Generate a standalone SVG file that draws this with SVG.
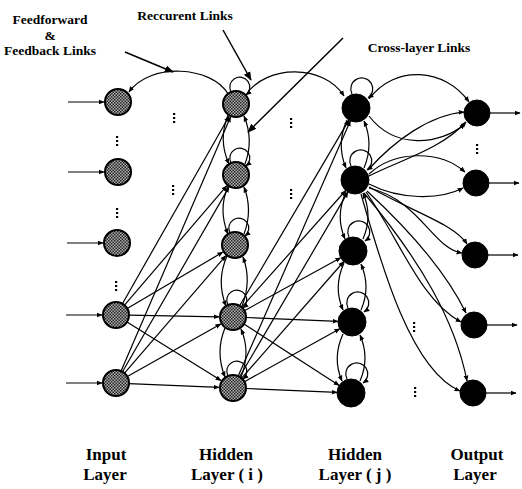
<svg xmlns="http://www.w3.org/2000/svg" width="522" height="489" viewBox="0 0 522 489">
<style>
.lbl{font-family:"Liberation Serif","DejaVu Serif",serif;font-size:13.5px;font-weight:bold;fill:#000;text-anchor:middle}
.blbl{font-family:"Liberation Serif","DejaVu Serif",serif;font-size:17px;font-weight:bold;fill:#000;text-anchor:middle}
.c{fill:none;stroke:#000;stroke-width:1.2;marker-end:url(#ah)}
.p{fill:none;stroke:#000;stroke-width:1.5;marker-end:url(#ahb)}
.g{fill:url(#st);stroke:#000;stroke-width:2}
.b{fill:#000;stroke:#000;stroke-width:1}
</style>
<defs>
<pattern id="st" width="3" height="3" patternUnits="userSpaceOnUse"><rect width="3" height="3" fill="#b0b0b0"/><rect width="1.5" height="1.5" fill="#222"/><rect x="1.5" y="1.5" width="1.5" height="1.5" fill="#222"/></pattern>
<marker id="ah" viewBox="0 0 10 10" refX="9" refY="5" markerWidth="6" markerHeight="6" orient="auto" markerUnits="userSpaceOnUse"><path d="M0,1 L10,5 L0,9 z" fill="#000"/></marker>
<marker id="ahb" viewBox="0 0 10 10" refX="9" refY="5" markerWidth="9" markerHeight="9" orient="auto" markerUnits="userSpaceOnUse"><path d="M0,1 L10,5 L0,9 z" fill="#000"/></marker>
<g id="vd"><rect x="-1" y="-5" width="2.2" height="2" fill="#000"/><rect x="-1" y="-1" width="2.2" height="2" fill="#000"/><rect x="-1" y="3" width="2.2" height="2" fill="#000"/></g>
</defs>

<g id="labels">
<text class="lbl" x="50" y="24">Feedforward</text>
<text class="lbl" x="50" y="40">&amp;</text>
<text class="lbl" x="50" y="55">Feedback Links</text>
<text class="lbl" x="185" y="20">Reccurent Links</text>
<text class="lbl" x="419" y="52">Cross-layer Links</text>
<text class="blbl" x="106" y="460">Input</text>
<text class="blbl" x="105" y="480">Layer</text>
<text class="blbl" x="226" y="460">Hidden</text>
<text class="blbl" x="227" y="480">Layer ( i )</text>
<text class="blbl" x="355" y="460">Hidden</text>
<text class="blbl" x="355" y="480">Layer ( j )</text>
<text class="blbl" x="477" y="460">Output</text>
<text class="blbl" x="475" y="480">Layer</text>
</g>

<g id="dots">
<use href="#vd" x="117" y="141"/>
<use href="#vd" x="117" y="213"/>
<use href="#vd" x="116" y="286"/>
<use href="#vd" x="174" y="118"/>
<use href="#vd" x="173" y="190"/>
<use href="#vd" x="291" y="123"/>
<use href="#vd" x="291" y="194"/>
<use href="#vd" x="477" y="149"/>
<use href="#vd" x="414" y="327"/>
<use href="#vd" x="415" y="392"/>
</g>

<g id="connectors">
<line class="c" x1="68" y1="102" x2="104" y2="102"/>
<line class="c" x1="68" y1="172" x2="104" y2="172"/>
<line class="c" x1="67" y1="243" x2="103" y2="243"/>
<line class="c" x1="66" y1="315" x2="102" y2="315"/>
<line class="c" x1="66" y1="383" x2="102" y2="383"/>
<line class="c" x1="490" y1="113" x2="520" y2="113"/>
<line class="c" x1="489" y1="183" x2="519" y2="183"/>
<line class="c" x1="488" y1="255" x2="518" y2="255"/>
<line class="c" x1="487" y1="325" x2="517" y2="325"/>
<line class="c" x1="486" y1="393" x2="516" y2="393"/>
<line class="c" x1="122.4" y1="303.7" x2="229.1" y2="116.2"/>
<line class="c" x1="124.5" y1="305.1" x2="226.9" y2="185.6"/>
<line class="c" x1="127.2" y1="308.4" x2="222.9" y2="252.1"/>
<line class="c" x1="129" y1="315.2" x2="219" y2="316.8"/>
<line class="c" x1="127" y1="321.9" x2="221.1" y2="380.6"/>
<line class="c" x1="121.1" y1="371.1" x2="230.5" y2="116.9"/>
<line class="c" x1="122.5" y1="371.7" x2="229" y2="187.1"/>
<line class="c" x1="124.5" y1="373.2" x2="225.9" y2="255.6"/>
<line class="c" x1="127.3" y1="376.6" x2="220.8" y2="323.9"/>
<line class="c" x1="129" y1="383.6" x2="219" y2="387.4"/>
<line class="c" x1="239.6" y1="305.8" x2="348.9" y2="120.1"/>
<line class="c" x1="241.6" y1="307.3" x2="345.7" y2="190.5"/>
<line class="c" x1="244.4" y1="310.7" x2="340.7" y2="257.7"/>
<line class="c" x1="246" y1="317.5" x2="338" y2="321.4"/>
<line class="c" x1="243.9" y1="324" x2="339.2" y2="385.4"/>
<line class="c" x1="238.2" y1="376.1" x2="350.4" y2="120.8"/>
<line class="c" x1="239.6" y1="376.8" x2="347.9" y2="192.1"/>
<line class="c" x1="241.6" y1="378.2" x2="343.8" y2="261.5"/>
<line class="c" x1="244.4" y1="381.7" x2="339.8" y2="328.8"/>
<line class="c" x1="246" y1="388.5" x2="337" y2="392.4"/>
<path class="c" d="M228,94 C212,66 150,62 129,92"/>
<path class="c" d="M246,95 C266,64 324,64 344,96"/>
<path class="c" d="M231,92 A10,10 0 1 1 246,95"/>
<path class="c" d="M231,163 A10,10 0 1 1 246,166"/>
<path class="c" d="M230,233 A10,10 0 1 1 245,236"/>
<path class="c" d="M228,305 A10,10 0 1 1 243,308"/>
<path class="c" d="M228,376 A10,10 0 1 1 243,379"/>
<path class="c" d="M352,94 A11,11 0 1 1 368,98"/>
<path class="c" d="M351,166 A11,11 0 1 1 367,170"/>
<path class="c" d="M349,237 A11,11 0 1 1 365,241"/>
<path class="c" d="M348,308 A11,11 0 1 1 364,312"/>
<path class="c" d="M347,379 A11,11 0 1 1 363,383"/>
<path class="c" d="M228,115 Q218,140 229,164"/>
<path class="c" d="M245,164 Q254,140 244,116"/>
<path class="c" d="M228,186 Q218,210 228,234"/>
<path class="c" d="M244,234 Q253,210 244,187"/>
<path class="c" d="M227,256 Q216,281 226,306"/>
<path class="c" d="M242,306 Q252,281 243,257"/>
<path class="c" d="M225,328 Q215,352 225,377"/>
<path class="c" d="M241,377 Q251,352 241,329"/>
<path class="c" d="M347,120 Q336,144 346,168"/>
<path class="c" d="M364,168 Q374,144 364,121"/>
<path class="c" d="M346,192 Q335,216 345,239"/>
<path class="c" d="M363,239 Q373,216 363,193"/>
<path class="c" d="M344,263 Q333,287 343,310"/>
<path class="c" d="M361,310 Q371,287 361,264"/>
<path class="c" d="M343,334 Q332,358 342,381"/>
<path class="c" d="M360,381 Q370,358 360,335"/>
<path class="c" d="M369,99 C395,64 445,68 469,102"/>
<path class="c" d="M369,116 C395,150 440,145 465,124"/>
<path class="c" d="M368,170 C395,140 430,115 464,112"/>
<path class="c" d="M369,176 C400,160 440,150 466,122"/>
<path class="c" d="M369,174 C395,150 440,150 465,172"/>
<path class="c" d="M369,184 C400,200 440,200 463,188"/>
<path class="c" d="M369,188 C420,200 432,248 462,253"/>
<path class="c" d="M369,187 C420,215 455,225 467,244"/>
<path class="c" d="M366,192 C400,240 420,300 461,322"/>
<path class="c" d="M367,191 C420,240 450,280 466,313"/>
<path class="c" d="M361,194 C380,260 410,370 460,391"/>
<path class="c" d="M364,193 C420,260 455,320 467,381"/>
<line class="p" x1="125" y1="52" x2="173" y2="72"/>
<line class="p" x1="223" y1="30" x2="251" y2="80"/>
<line class="p" x1="343" y1="38" x2="248" y2="132"/>
</g>

<g id="input-layer">
<circle id="i1" class="g" cx="118" cy="102" r="13"/>
<circle id="i2" class="g" cx="118" cy="172" r="13"/>
<circle id="i3" class="g" cx="117" cy="243" r="13"/>
<circle id="i4" class="g" cx="116" cy="315" r="13"/>
<circle id="i5" class="g" cx="116" cy="383" r="13"/>
</g>
<g id="hidden-i">
<circle id="h1" class="g" cx="236" cy="104" r="13"/>
<circle id="h2" class="g" cx="236" cy="175" r="13"/>
<circle id="h3" class="g" cx="235" cy="245" r="13"/>
<circle id="h4" class="g" cx="233" cy="317" r="13"/>
<circle id="h5" class="g" cx="233" cy="388" r="13"/>
</g>
<g id="hidden-j">
<circle id="j1" class="b" cx="356" cy="108" r="14"/>
<circle id="j2" class="b" cx="355" cy="180" r="14"/>
<circle id="j3" class="b" cx="353" cy="251" r="14"/>
<circle id="j4" class="b" cx="352" cy="322" r="14"/>
<circle id="j5" class="b" cx="351" cy="393" r="14"/>
</g>
<g id="output-layer">
<circle id="o1" class="b" cx="477" cy="113" r="13"/>
<circle id="o2" class="b" cx="476" cy="183" r="13"/>
<circle id="o3" class="b" cx="475" cy="255" r="13"/>
<circle id="o4" class="b" cx="474" cy="325" r="13"/>
<circle id="o5" class="b" cx="473" cy="393" r="13"/>
</g>
</svg>
